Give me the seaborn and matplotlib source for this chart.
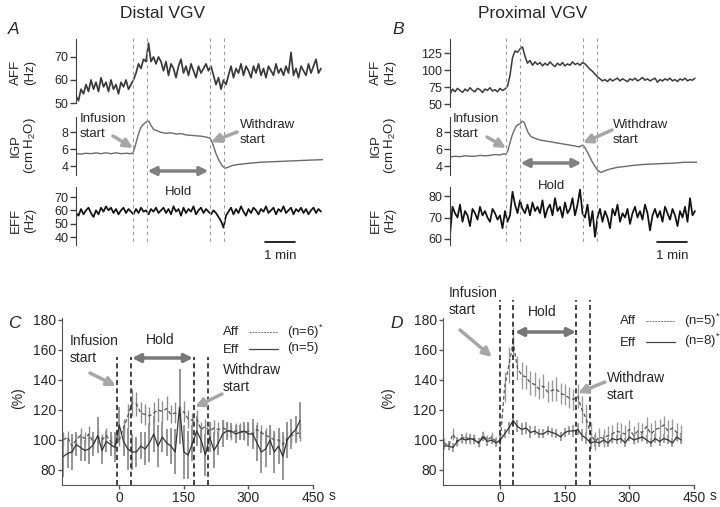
import numpy as np
import pandas as pd
import matplotlib
matplotlib.use('Agg')
import matplotlib.pyplot as plt
import seaborn as sns

# ---------------- data ----------------
# raw traces, sampled every 5 s over ~8 min
T5 = np.arange(0, 495, 5)

A_aff = [53, 51, 56, 54, 58, 55, 60, 56, 59, 55, 61, 57, 59, 55, 60, 56, 58, 54, 59, 57, 60, 56, 58,
         60, 63, 67, 65, 69, 68,
         76, 68, 70, 67, 70, 68,
         64, 68, 62, 67, 65, 61, 66, 69, 63, 66, 62, 67, 64, 61, 66, 63, 65, 67, 64,
         66, 62, 58, 61, 56, 60, 58,
         62, 66, 61, 65, 63, 67, 62, 66, 64, 61, 66, 63, 67, 62, 65, 61, 66, 64, 62, 67,
         63, 65, 62, 66, 63, 72, 62, 65, 61, 66, 64, 62, 67, 63, 66, 69, 63, 65]
A_eff = [58, 56, 61, 57, 60, 62, 58, 55, 60, 57, 62, 59, 63, 60, 62, 58, 61, 57, 60, 62, 58, 61, 59,
         57, 61, 58, 62, 59, 60,
         57, 61, 59, 62, 58, 60,
         62, 58, 61, 57, 63, 59, 61, 56, 62, 58, 61, 59, 63, 57, 60, 62, 58, 61, 59,
         57, 60, 58, 55, 52, 47, 56,
         59, 62, 57, 61, 58, 63, 59, 56, 61, 58, 62, 60, 57, 61, 59, 63, 58, 60, 62, 57,
         61, 59, 63, 58, 60, 62, 57, 61, 59, 62, 58, 61, 57, 60, 62, 58, 61, 59]
B_aff = [64, 72, 68, 73, 70, 67, 72, 69, 74, 70, 68, 73, 71, 67, 72, 70, 74, 69, 71, 68, 73, 70, 72,
         76, 92, 118, 128, 126, 131,
         134, 120, 110, 114, 107, 112,
         108, 111, 106, 110, 107, 112, 108, 105, 110, 107, 111, 106, 109, 107, 112, 108, 110, 107, 111,
         109, 105, 101, 98, 94, 90, 87,
         84, 86, 83, 87, 84, 86, 88, 84, 87, 85, 83, 87, 85, 88, 84, 86, 89, 85, 87, 84,
         86, 88, 82, 86, 84, 87, 85, 88, 84, 86, 83, 87, 85, 88, 84, 86, 85, 88]
B_eff = [62, 75, 72, 70, 76, 68, 73, 71, 66, 74, 72, 69, 75, 71, 73, 70, 68, 74, 72, 69, 71, 65, 73,
         68, 71, 82, 76, 72, 78,
         74, 72, 76, 71, 77, 73,
         75, 72, 78, 70, 74, 76, 71, 79, 73, 75, 70, 77, 72, 74, 79, 71, 76, 83, 72,
         70, 76, 66, 73, 61, 70, 74,
         68, 73, 70, 65, 74, 71, 76, 68, 72, 70, 74, 67, 72, 75, 70, 73, 69, 76, 72, 64,
         71, 74, 70, 73, 68, 75, 72, 69, 74, 71, 66, 73, 70, 75, 68, 79, 71, 73]

A_igp_t = [0, 10, 20, 30, 40, 50, 60, 70, 80, 90, 100, 110, 114, 118, 122, 126, 130, 134, 138, 142,
           146, 150, 156, 162, 170, 180, 190, 200, 210, 220, 230, 240, 250, 260, 268, 272, 276, 280,
           286, 292, 298, 304, 312, 320, 335, 350, 370, 390, 410, 430, 450, 470, 494]
A_igp = [5.5, 5.45, 5.55, 5.5, 5.6, 5.5, 5.6, 5.5, 5.6, 5.5, 5.55, 5.5, 5.6, 6.3, 7.2, 8.0, 8.6, 8.9,
         9.1, 9.3, 9.3, 8.8, 8.3, 8.2, 8.0, 7.9, 7.95, 7.8, 7.85, 7.7, 7.65, 7.6, 7.55, 7.45, 7.35,
         6.9, 6.2, 5.5, 4.7, 4.1, 3.8, 3.9, 4.1, 4.2, 4.3, 4.4, 4.5, 4.55, 4.6, 4.65, 4.7, 4.75, 4.8]
B_igp_t = [0, 10, 20, 30, 40, 50, 60, 70, 80, 90, 100, 108, 112, 116, 120, 124, 128, 132, 136, 140,
           144, 148, 152, 156, 162, 170, 180, 190, 200, 210, 220, 230, 240, 250, 258, 266, 272, 278,
           284, 290, 296, 302, 310, 320, 335, 350, 370, 390, 410, 430, 450, 470, 494]
B_igp = [5.1, 5.2, 5.15, 5.25, 5.2, 5.2, 5.3, 5.25, 5.3, 5.4, 5.35, 5.5, 5.4, 5.9, 6.8, 7.6, 8.2, 8.7,
         8.9, 9.0, 9.3, 9.2, 8.6, 8.0, 7.5, 7.3, 7.1, 7.0, 6.9, 6.8, 6.7, 6.6, 6.5, 6.4, 6.3, 6.5,
         6.0, 5.3, 4.6, 4.0, 3.5, 3.3, 3.5, 3.7, 3.9, 4.0, 4.15, 4.25, 4.3, 4.35, 4.4, 4.5, 4.5]

EV_A = [114, 142, 268, 296]
EV_B = [112, 140, 266, 294]

# averaged responses, 10 s bins
T10 = np.arange(-130, 430, 10)
C_aff = [100, 102, 96, 100, 103, 101, 104, 98, 102, 100,
         103, 99, 97, 100, 108, 116, 125, 124, 118, 117,
         116, 118, 120, 119, 121, 117, 118, 116, 119, 114,
         113, 114, 107, 109, 106, 108, 107, 108, 107, 105,
         106, 106, 105, 106, 104, 107, 105, 103, 102, 100,
         100, 97, 101, 103, 104, 105]
C_aff_err = [5, 4, 5, 4, 5, 4, 5, 4, 5, 4,
             5, 4, 5, 4, 6, 8, 9, 8, 7, 7,
             6, 7, 8, 7, 8, 6, 7, 6, 7, 6,
             5, 6, 5, 5, 5, 5, 5, 5, 5, 5,
             5, 5, 5, 5, 5, 5, 5, 5, 5, 5,
             5, 6, 5, 5, 5, 6]
C_eff = [89, 91, 92, 97, 95, 93, 94, 97, 103, 93,
         99, 97, 95, 110, 99, 94, 92, 92, 96, 94,
         98, 104, 96, 102, 98, 96, 92, 122, 92, 90,
         98, 106, 100, 90, 102, 93, 98, 104, 106, 106,
         104, 105, 106, 104, 104, 98, 92, 94, 100, 92,
         96, 89, 100, 104, 107, 113]
C_eff_err = [14, 10, 12, 8, 9, 7, 10, 8, 12, 9,
             7, 8, 10, 12, 10, 14, 12, 10, 9, 11,
             13, 12, 14, 10, 9, 12, 15, 25, 18, 16,
             12, 10, 9, 14, 10, 12, 8, 9, 6, 5,
             6, 5, 6, 8, 10, 12, 14, 12, 10, 14,
             12, 16, 12, 10, 9, 12]
D_aff = [98, 96, 104, 99, 101, 102, 100, 101, 98, 103,
         100, 102, 99, 99, 135, 150, 165, 148, 143, 142,
         138, 137, 134, 136, 132, 133, 134, 131, 130, 128,
         127, 129, 120, 114, 104, 99, 102, 101, 103, 104,
         106, 105, 104, 107, 103, 106, 105, 109, 104, 107,
         108, 110, 106, 108, 105, 104]
D_aff_err = [3, 3, 4, 3, 3, 3, 3, 3, 3, 3,
             3, 3, 3, 3, 10, 12, 10, 8, 9, 8,
             8, 8, 7, 8, 7, 7, 8, 7, 7, 7,
             7, 8, 9, 10, 8, 6, 6, 6, 6, 6,
             6, 6, 6, 6, 6, 6, 6, 6, 7, 6,
             6, 6, 7, 6, 6, 6]
D_eff = [96, 96, 95, 99, 101, 100, 101, 100, 98, 102,
         99, 100, 98, 100, 104, 108, 113, 109, 107, 108,
         105, 106, 104, 104, 106, 105, 104, 102, 105, 106,
         106, 107, 103, 101, 98, 99, 98, 100, 98, 101,
         100, 101, 98, 102, 100, 101, 102, 100, 98, 101,
         99, 101, 100, 98, 102, 100]
D_eff_err = [3, 3, 3, 3, 3, 3, 3, 3, 3, 3,
             3, 3, 3, 3, 3, 4, 4, 4, 4, 4,
             4, 3, 3, 3, 3, 3, 3, 3, 3, 3,
             4, 4, 4, 4, 4, 4, 3, 3, 3, 3,
             3, 3, 3, 3, 3, 3, 3, 3, 3, 3,
             3, 3, 3, 3, 3, 3]
EV_C = [-5, 28, 173, 205]
EV_D = [-1, 29, 176, 208]

# ---------------- figure ----------------
sns.set_style('ticks')
plt.rcParams['font.family'] = ['Liberation Sans', 'DejaVu Sans']
plt.rcParams['mathtext.default'] = 'regular'

W, H = 720, 507
fig = plt.figure(figsize=(W / 100, H / 100), dpi=100)
SP = '#404040'


def px_axes(x0, y0, x1, y1):
    ax = fig.add_axes([x0 / W, 1 - y1 / H, (x1 - x0) / W, (y1 - y0) / H])
    ax.patch.set_visible(False)
    return ax


def trace(box, t, v, ylim, yticks, color, lw):
    ax = px_axes(*box)
    df = pd.DataFrame({'t': t, 'v': v})
    sns.lineplot(data=df, x='t', y='v', ax=ax, color=color, lw=lw)
    ax.set_xlim(0, 494)
    ax.set_ylim(*ylim)
    ax.set_yticks(yticks)
    ax.set_xticks([])
    ax.set(xlabel='', ylabel='')
    sns.despine(ax=ax, bottom=True)
    ax.spines['left'].set_color(SP)
    ax.tick_params(axis='y', length=4, width=1, color=SP, labelsize=9, pad=1.5)
    return ax


# top traces
trace((76, 39, 323, 103), T5, A_aff, (50, 77.8), [50, 60, 70], '#3a3a3a', 1.25)
trace((76, 117, 323, 175), A_igp_t, A_igp, (3, 9.8), [4, 6, 8], '#6a6a6a', 1.0)
trace((76, 187, 323, 245), T5, A_eff, (34, 77.5), [40, 50, 60, 70], '#111111', 1.25)
trace((450, 39, 697, 107), T5, B_aff, (45.6, 145.6), [50, 75, 100, 125], '#3a3a3a', 1.1)
trace((450, 117, 697, 175), B_igp_t, B_igp, (3, 9.8), [4, 6, 8], '#6a6a6a', 1.0)
trace((450, 187, 697, 245), T5, B_eff, (57.2, 84.2), [60, 70, 80], '#111111', 1.25)

# event lines, hold arrows and scale bars for top panels
for x0, x1, ev, hold_y, hold_txt_y, bar0 in [(76, 323, EV_A, 171, 192, 378),
                                              (450, 697, EV_B, 163, 186, 414)]:
    ev_ax = px_axes(x0, 0, x1, H)
    ev_ax.set_xlim(0, 494)
    ev_ax.set_ylim(H, 0)
    ev_ax.axis('off')
    ev_ax.vlines(ev, 38, 245, colors='#9a9a9a', linestyles=(0, (3, 3)), lw=0.8)
    ev_ax.annotate('', xy=(ev[1] + 1, hold_y), xytext=(ev[2] - 3, hold_y),
                   arrowprops=dict(arrowstyle='<|-|>', color='#808080', lw=2.5,
                                   mutation_scale=12, shrinkA=0, shrinkB=0))
    ev_ax.text((ev[1] + ev[2]) / 2, hold_txt_y, 'Hold', ha='center', va='center', fontsize=9.5)
    ev_ax.plot([bar0, bar0 + 60], [242, 242], color='black', lw=1.2)
    ev_ax.text(bar0 + 30, 256, '1 min', ha='center', va='center', fontsize=9.5)


# averaged panels
def avg_panel(box, ev, ev_top, aff, aff_err, eff, eff_err, err_col):
    ax = px_axes(*box)
    ax.errorbar(T10, eff, yerr=eff_err, fmt='none', ecolor=err_col, elinewidth=1.3, capsize=0)
    ax.errorbar(T10, aff, yerr=aff_err, fmt='none', ecolor=err_col, elinewidth=1.0, capsize=0)
    df = pd.DataFrame({'t': T10, 'aff': aff, 'eff': eff})
    sns.lineplot(data=df, x='t', y='aff', ax=ax, color='#555555', lw=0.9, linestyle=(0, (3, 2)))
    sns.lineplot(data=df, x='t', y='eff', ax=ax, color='#333333', lw=0.9)
    ax.vlines(ev, 70, ev_top, colors='#222222', linestyles=(0, (3, 2)), lw=1.2, clip_on=False)
    ax.set_xlim(-133, 450)
    ax.set_ylim(70, 181.3)
    ax.set_yticks([80, 100, 120, 140, 160, 180])
    ax.set_xticks([0, 150, 300, 450])
    ax.set(xlabel='', ylabel='')
    sns.despine(ax=ax)
    for s in ('left', 'bottom'):
        ax.spines[s].set_color('#555555')
    ax.tick_params(length=3, width=1, color='#555555', labelsize=10, pad=1.5)
    ax.annotate('s', xy=(450, 0), xycoords=('data', 'axes fraction'), xytext=(11, -8),
                textcoords='offset points', fontsize=10, va='center')
    return ax


avg_panel((62, 318, 313, 485), EV_C, 155, C_aff, C_aff_err, C_eff, C_eff_err, '#8c8c8c')
avg_panel((443, 318, 694, 485), EV_D, 193, D_aff, D_aff_err, D_eff, D_eff_err, '#9a9a9a')

# ---------------- text overlay (pixel coordinates) ----------------
ov = fig.add_axes([0, 0, 1, 1])
ov.set_xlim(0, W)
ov.set_ylim(H, 0)
ov.axis('off')

ov.text(163, 14, 'Distal VGV', ha='center', va='center', fontsize=12.5)
ov.text(533, 14, 'Proximal VGV', ha='center', va='center', fontsize=12.5)
for x, y, s in [(8, 29, 'A'), (392, 29, 'B'), (8, 323, 'C'), (390, 323, 'D')]:
    ov.text(x, y, s, ha='left', va='center', fontsize=12.5, style='italic')

for xo in (0, 360):
    for y, l1, l2 in [(72, 'AFF', '(Hz)'), (146, 'IGP', '(cm H$_2$O)'), (220, 'EFF', '(Hz)')]:
        ov.text(xo + 16, y, l1, rotation=90, ha='center', va='center', fontsize=9.5)
        ov.text(xo + 30, y, l2, rotation=90, ha='center', va='center', fontsize=9.5)
ov.text(18, 398, '(%)', rotation=90, ha='center', va='center', fontsize=10)
ov.text(388, 398, '(%)', rotation=90, ha='center', va='center', fontsize=10)

ARW = dict(arrowstyle='-|>', color='#a6a6a6', lw=2.5, mutation_scale=13, shrinkA=0, shrinkB=0)


def label_arrow(tx, ty, text, start, end, fs):
    ov.text(tx, ty, text, ha='left', va='top', fontsize=fs, linespacing=1.3)
    ov.annotate('', xy=end, xytext=start, arrowprops=ARW)


label_arrow(80, 113, 'Infusion\nstart', (113, 136), (133, 148), 9.5)
label_arrow(240, 119, 'Withdraw\nstart', (237, 132), (211, 142), 9.5)
label_arrow(453, 113, 'Infusion\nstart', (487, 137), (506, 148), 9.5)
label_arrow(613, 119, 'Withdraw\nstart', (612, 130), (583, 143), 9.5)
label_arrow(70, 334, 'Infusion\nstart', (90, 373), (116, 386), 10)
label_arrow(223, 363, 'Withdraw\nstart', (222, 394), (195, 407), 10)
label_arrow(449, 286, 'Infusion\nstart', (460, 330), (492, 357), 10)
label_arrow(607, 371, 'Withdraw\nstart', (605, 382), (578, 393), 10)

HOLD = dict(arrowstyle='<|-|>', color='#777777', lw=2.5, mutation_scale=12, shrinkA=0, shrinkB=0)
ov.annotate('', xy=(132, 358), xytext=(193, 358), arrowprops=HOLD)
ov.text(160, 340, 'Hold', ha='center', va='center', fontsize=10)
ov.annotate('', xy=(515, 332), xytext=(576, 332), arrowprops=HOLD)
ov.text(542, 312, 'Hold', ha='center', va='center', fontsize=10)

# legends: label, line sample, n
for x0, y_aff, y_eff, n_aff, n_eff in [(223, 332, 350, '(n=6)$^{*}$', '(n=5)'),
                                        (620, 321, 343, '(n=5)$^{*}$', '(n=8)$^{*}$')]:
    ov.text(x0, y_aff, 'Aff', ha='left', va='center', fontsize=9.5)
    ov.text(x0, y_eff, 'Eff', ha='left', va='center', fontsize=9.5)
    ov.plot([x0 + 26, x0 + 55], [y_aff, y_aff], color='#777777', lw=0.7, linestyle=(0, (2, 1)))
    ov.plot([x0 + 26, x0 + 55], [y_eff - 1, y_eff - 1], color='#444444', lw=0.9)
    ov.text(x0 + 64, y_aff, n_aff, ha='left', va='center', fontsize=9.5)
    ov.text(x0 + 64, y_eff - 2, n_eff, ha='left', va='center', fontsize=9.5)

fig.savefig('out.png', dpi=100)
